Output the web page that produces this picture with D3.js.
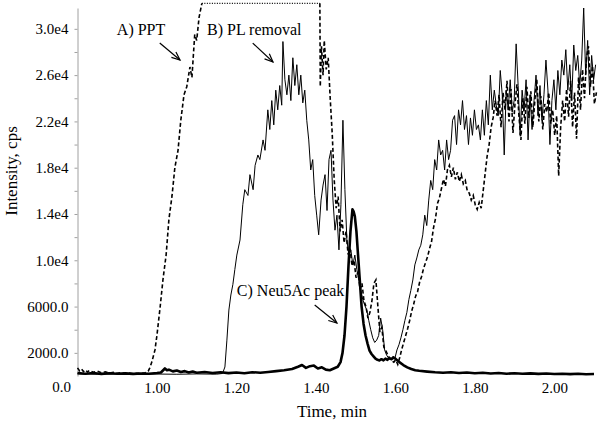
<!DOCTYPE html>
<html>
<head>
<meta charset="utf-8">
<script src="https://cdnjs.cloudflare.com/ajax/libs/d3/7.8.5/d3.min.js"></script>
<style>
  body { margin: 0; background: #fff; }
</style>
</head>
<body>
<script>
// Chromatogram traces, [time (min), intensity (cps)]
// A) PPT, before the detector saturates
var pptRise = [
  [0.800,700],[0.805,450],[0.810,600],[0.815,380],[0.820,520],[0.825,350],[0.830,480],[0.840,320],
  [0.850,420],[0.860,280],[0.870,360],[0.880,250],[0.890,320],[0.900,230],[0.910,280],[0.920,210],
  [0.930,260],[0.940,200],[0.950,240],[0.960,220],[0.970,280],[0.978,420],[0.982,700],[0.987,1200],
  [0.995,2250],[1.000,3540],[1.008,5960],[1.015,8300],[1.023,10450],[1.030,13500],[1.038,15600],
  [1.045,18000],[1.053,19500],[1.060,22100],[1.068,24300],[1.075,25000],[1.083,26700],[1.088,25800],
  [1.095,29500],[1.100,29000],[1.106,31000],[1.113,32200]
];
// saturated (off scale) stretch of trace A
var pptSaturated = [[1.113,32200],[1.410,32200]];
// A) PPT, after saturation
var pptFall = [
  [1.410,32200],[1.411,25000],[1.414,28500],[1.418,26000],[1.421,29000],[1.426,26500],[1.431,27500],
  [1.436,24000],[1.441,21000],[1.446,17000],[1.451,14500],[1.456,15500],[1.461,12500],[1.466,13500],
  [1.471,11500],[1.476,12500],[1.481,10500],[1.486,11000],[1.491,9500],[1.496,10000],[1.501,8500],
  [1.506,9000],[1.511,7500],[1.516,8000],[1.521,6500],[1.526,6000],[1.531,5000],[1.536,5500],
  [1.541,6500],[1.546,8000],[1.551,8300],[1.556,6000],[1.561,3800],[1.566,4200],[1.571,2500],
  [1.576,2200],[1.581,1800],[1.586,1500],[1.591,1300],[1.596,1200],[1.601,1400],[1.606,1000],
  [1.611,1600],[1.616,2300],[1.621,2900],[1.626,3500],[1.631,4100],[1.636,4800],[1.641,5600],
  [1.646,6200],[1.651,6900],[1.656,7300],[1.661,8100],[1.666,8600],[1.671,9300],[1.676,9800],
  [1.681,10300],[1.686,11000],[1.691,11600],[1.696,12800],[1.701,13600],[1.706,14900],[1.711,15400],
  [1.716,16200],[1.721,17000],[1.726,16400],[1.731,17800],[1.736,18200],[1.741,17200],[1.746,18000],
  [1.751,17000],[1.756,17600],[1.761,16800],[1.766,17400],[1.771,16600],[1.776,16900],[1.781,16000],
  [1.786,15800],[1.791,15200],[1.796,15600],[1.801,14800],[1.806,14400],[1.811,15000],[1.816,14500],
  [1.821,16000],[1.826,17500],[1.831,19000],[1.836,20000],[1.841,21500],[1.846,22300],[1.851,23800],
  [1.856,22500],[1.861,24300],[1.866,21500],[1.871,24500],[1.876,23000],[1.881,25500],[1.886,22000],
  [1.891,24800],[1.896,21000],[1.901,23500],[1.906,25200],[1.911,22500],[1.916,20400],[1.921,24000],
  [1.926,21800],[1.931,25000],[1.936,22300],[1.941,24600],[1.946,21500],[1.951,23800],[1.956,25600],
  [1.961,22000],[1.966,24200],[1.971,21300],[1.976,23500],[1.981,22800],[1.986,24500],[1.991,21800],
  [1.996,23000],[2.001,20800],[2.006,22500],[2.011,17300],[2.016,21500],[2.021,23800],[2.026,22000],
  [2.031,24800],[2.036,22400],[2.041,25500],[2.046,21500],[2.051,24500],[2.056,20500],[2.061,25800],
  [2.066,23000],[2.071,26500],[2.076,24000],[2.081,27500],[2.086,28500],[2.091,25000],[2.096,26800],
  [2.101,23500],[2.106,24500]
];
// B) PL removal
var plRemoval = [
  [0.800,200],[0.850,150],[0.900,180],[0.950,140],[1.000,170],[1.050,150],[1.100,180],[1.150,160],
  [1.165,220],[1.171,780],[1.176,3100],[1.181,5700],[1.186,7000],[1.191,7900],[1.196,9200],[1.201,10450],
  [1.209,11750],[1.216,14800],[1.221,16100],[1.229,15600],[1.234,17400],[1.242,16100],[1.247,18200],
  [1.254,19100],[1.259,18700],[1.267,20400],[1.272,19500],[1.279,23000],[1.284,21300],[1.289,23800],
  [1.294,21700],[1.299,24700],[1.304,23000],[1.309,25100],[1.314,23400],[1.317,28900],[1.322,25600],
  [1.327,24300],[1.332,26000],[1.337,23800],[1.342,27500],[1.347,25100],[1.352,26900],[1.357,24300],
  [1.362,26000],[1.367,23600],[1.372,24700],[1.377,22100],[1.382,20400],[1.387,17800],[1.392,18700],
  [1.397,15600],[1.402,13900],[1.407,12200],[1.413,15200],[1.418,16500],[1.423,17400],[1.428,14300],
  [1.433,18700],[1.438,19500],[1.443,15200],[1.448,12600],[1.453,13900],[1.458,10900],[1.463,14800],
  [1.468,22100],[1.473,16100],[1.478,11750],[1.483,10450],[1.488,10900],[1.493,9600],[1.498,10450],
  [1.503,9200],[1.508,8300],[1.513,7400],[1.518,6600],[1.523,6100],[1.528,5700],[1.533,4800],
  [1.538,4000],[1.543,3300],[1.548,2900],[1.553,3100],[1.558,3500],[1.563,5000],[1.568,4000],
  [1.573,2250],[1.578,1800],[1.583,1550],[1.589,1400],[1.594,1700],[1.599,1550],[1.604,2250],
  [1.609,2700],[1.614,3300],[1.619,4000],[1.624,4800],[1.629,5500],[1.634,6600],[1.639,7400],
  [1.644,8300],[1.649,9600],[1.654,10200],[1.659,10900],[1.664,11300],[1.669,12200],[1.674,13900],
  [1.679,13000],[1.684,15200],[1.689,16900],[1.694,16100],[1.699,18700],[1.704,17800],[1.709,20400],
  [1.714,19100],[1.719,19500],[1.724,17800],[1.729,20400],[1.734,18700],[1.739,19500],[1.744,22100],
  [1.749,22500],[1.754,20000],[1.759,23000],[1.764,21700],[1.769,23800],[1.774,21300],[1.779,22500],
  [1.784,20000],[1.789,22300],[1.794,20800],[1.799,23000],[1.804,21300],[1.809,21700],[1.814,20400],
  [1.819,23000],[1.824,20800],[1.829,23800],[1.834,21700],[1.839,26000],[1.844,23000],[1.849,24700],
  [1.854,23400],[1.859,22500],[1.864,26400],[1.869,24300],[1.874,19100],[1.879,24700],[1.884,23000],
  [1.889,25600],[1.894,22800],[1.899,23800],[1.904,28700],[1.909,25100],[1.914,20800],[1.919,24700],
  [1.924,23000],[1.929,25600],[1.934,20400],[1.939,24300],[1.944,21300],[1.949,23800],[1.954,26000],
  [1.959,22500],[1.964,25100],[1.969,22100],[1.974,24300],[1.979,27300],[1.984,24700],[1.989,20000],
  [1.994,23800],[1.999,25600],[2.004,23000],[2.009,26400],[2.014,24300],[2.019,27300],[2.024,26000],
  [2.029,28200],[2.034,24700],[2.039,26900],[2.044,23800],[2.049,28600],[2.054,26400],[2.059,27700],
  [2.064,25100],[2.069,27300],[2.074,31800],[2.079,26000],[2.084,29000],[2.089,24300],[2.094,27700],
  [2.099,25600],[2.104,26900]
];
// C) Neu5Ac peak
var neu5ac = [
  [0.800,250],[0.820,200],[0.840,260],[0.860,180],[0.880,240],[0.900,200],[0.920,230],[0.940,180],
  [0.960,220],[0.980,200],[1.000,260],[1.010,300],[1.020,650],[1.025,500],[1.030,550],[1.040,400],
  [1.050,480],[1.060,350],[1.070,420],[1.080,300],[1.090,380],[1.100,280],[1.120,340],[1.140,260],
  [1.160,320],[1.180,250],[1.200,300],[1.220,240],[1.240,330],[1.260,280],[1.280,350],[1.300,420],
  [1.320,500],[1.340,600],[1.355,800],[1.365,950],[1.375,700],[1.385,850],[1.395,900],[1.405,650],
  [1.415,750],[1.425,550],[1.435,500],[1.445,650],[1.455,800],[1.462,1200],[1.467,2000],[1.472,3500],
  [1.477,6000],[1.482,9500],[1.487,12500],[1.492,14400],[1.495,14200],[1.498,13800],[1.502,12500],
  [1.506,10500],[1.510,8500],[1.515,6000],[1.520,4500],[1.525,3500],[1.530,2800],[1.535,2200],
  [1.540,1900],[1.545,1700],[1.550,1500],[1.555,1400],[1.560,1350],[1.565,1450],[1.570,1350],
  [1.575,1500],[1.580,1400],[1.585,1550],[1.590,1450],[1.595,1600],[1.600,1500],[1.605,1350],
  [1.610,1200],[1.620,950],[1.630,750],[1.640,600],[1.650,500],[1.660,450],[1.680,380],[1.700,320],
  [1.720,280],[1.740,330],[1.760,260],[1.780,300],[1.800,240],[1.820,280],[1.840,220],[1.860,260],
  [1.880,200],[1.900,240],[1.920,190],[1.940,230],[1.960,180],[1.980,210],[2.000,170],[2.020,200],
  [2.040,160],[2.060,190],[2.080,150],[2.100,170]
];

var xTicks = [1.0, 1.2, 1.4, 1.6, 1.8, 2.0];
var yTicks = d3.range(2000, 31000, 2000);
var yLabelled = [2000, 6000, 10000, 14000, 18000, 22000, 26000, 30000];

// annotations: label, text anchor point, arrow start, arrow end (time, cps)
var notes = [
  { label: "A) PPT",        at: [0.899, 29460], from: [1.007, 28770], to: [1.058, 27300] },
  { label: "B) PL removal", at: [1.126, 29460], from: [1.241, 28770], to: [1.292, 27130] },
  { label: "C) Neu5Ac peak", at: [1.201, 6910], from: [1.397, 6130], to: [1.453, 4580] }
];

var FONT = "Liberation Serif";
var svgWidth = 600, svgHeight = 423;

var svg = d3.select("body").append("svg")
  .attr("width", svgWidth)
  .attr("height", svgHeight);

svg.append("rect").attr("width", svgWidth).attr("height", svgHeight).attr("fill", "#fff");

var x = d3.scaleLinear().domain([0.8, 2.11]).range([77.5, 598]);
var y = d3.scaleLinear().domain([0, 31800]).range([376, 8]);

// y axis
var yAxis = d3.axisLeft(y)
  .tickValues(yTicks)
  .tickSize(3)
  .tickSizeOuter(0)
  .tickPadding(6)
  .tickFormat(function(d) {
    if (yLabelled.indexOf(d) < 0) return "";
    return d < 10000 ? d3.format(".1f")(d) : (d / 1e4).toFixed(1) + "e4";
  });

var gy = svg.append("g")
  .attr("transform", "translate(77.5,0)")
  .call(yAxis)
  .attr("font-family", FONT)
  .attr("font-size", 15);
gy.select(".domain").attr("stroke", "#a0a0a0");
gy.selectAll(".tick line").attr("stroke", "#a0a0a0");
gy.selectAll("text").attr("fill", "#000");

svg.append("text")
  .attr("x", 71)
  .attr("y", 392)
  .attr("text-anchor", "end")
  .attr("font-family", FONT)
  .attr("font-size", 15)
  .text("0.0");

// x axis, labels only
var xAxis = d3.axisBottom(x)
  .tickValues(xTicks)
  .tickSize(0)
  .tickPadding(6)
  .tickFormat(d3.format(".2f"));

var gx = svg.append("g")
  .attr("transform", "translate(0,376)")
  .call(xAxis)
  .attr("font-family", FONT)
  .attr("font-size", 15);
gx.select(".domain").remove();
gx.selectAll("text").attr("fill", "#000");

// axis titles
svg.append("text")
  .attr("x", 332)
  .attr("y", 417)
  .attr("text-anchor", "middle")
  .attr("font-family", FONT)
  .attr("font-size", 17)
  .text("Time, min");

svg.append("text")
  .attr("transform", "translate(17,171) rotate(-90)")
  .attr("text-anchor", "middle")
  .attr("font-family", FONT)
  .attr("font-size", 17)
  .text("Intensity, cps");

// traces
var line = d3.line()
  .x(function(d) { return x(d[0]); })
  .y(function(d) { return y(d[1]); });

[pptRise, pptFall].forEach(function(trace) {
  svg.append("path")
    .datum(trace)
    .attr("d", line)
    .attr("fill", "none")
    .attr("stroke", "#000")
    .attr("stroke-width", 1.6)
    .attr("stroke-dasharray", "4,2.5");
});

svg.append("path")
  .datum(pptSaturated)
  .attr("d", line)
  .attr("fill", "none")
  .attr("stroke", "#000")
  .attr("stroke-width", 1.2)
  .attr("stroke-dasharray", "1,1.5");

svg.append("path")
  .datum(plRemoval)
  .attr("d", line)
  .attr("fill", "none")
  .attr("stroke", "#000")
  .attr("stroke-width", 1);

svg.append("path")
  .datum(neu5ac)
  .attr("d", line)
  .attr("fill", "none")
  .attr("stroke", "#000")
  .attr("stroke-width", 2.6)
  .attr("stroke-linejoin", "round");

// annotations with open arrowheads
notes.forEach(function(n) {
  svg.append("text")
    .attr("x", x(n.at[0]))
    .attr("y", y(n.at[1]))
    .attr("font-family", FONT)
    .attr("font-size", 16)
    .text(n.label);

  var x1 = x(n.from[0]), y1 = y(n.from[1]);
  var x2 = x(n.to[0]), y2 = y(n.to[1]);
  var ang = Math.atan2(y2 - y1, x2 - x1);
  var len = 9, spread = 0.4;
  var head = "M" + (x2 - len * Math.cos(ang - spread)) + "," + (y2 - len * Math.sin(ang - spread)) +
             "L" + x2 + "," + y2 +
             "L" + (x2 - len * Math.cos(ang + spread)) + "," + (y2 - len * Math.sin(ang + spread));

  svg.append("line")
    .attr("x1", x1).attr("y1", y1)
    .attr("x2", x2).attr("y2", y2)
    .attr("stroke", "#000")
    .attr("stroke-width", 1.2);
  svg.append("path")
    .attr("d", head)
    .attr("fill", "none")
    .attr("stroke", "#000")
    .attr("stroke-width", 1.2);
});
</script>
</body>
</html>
